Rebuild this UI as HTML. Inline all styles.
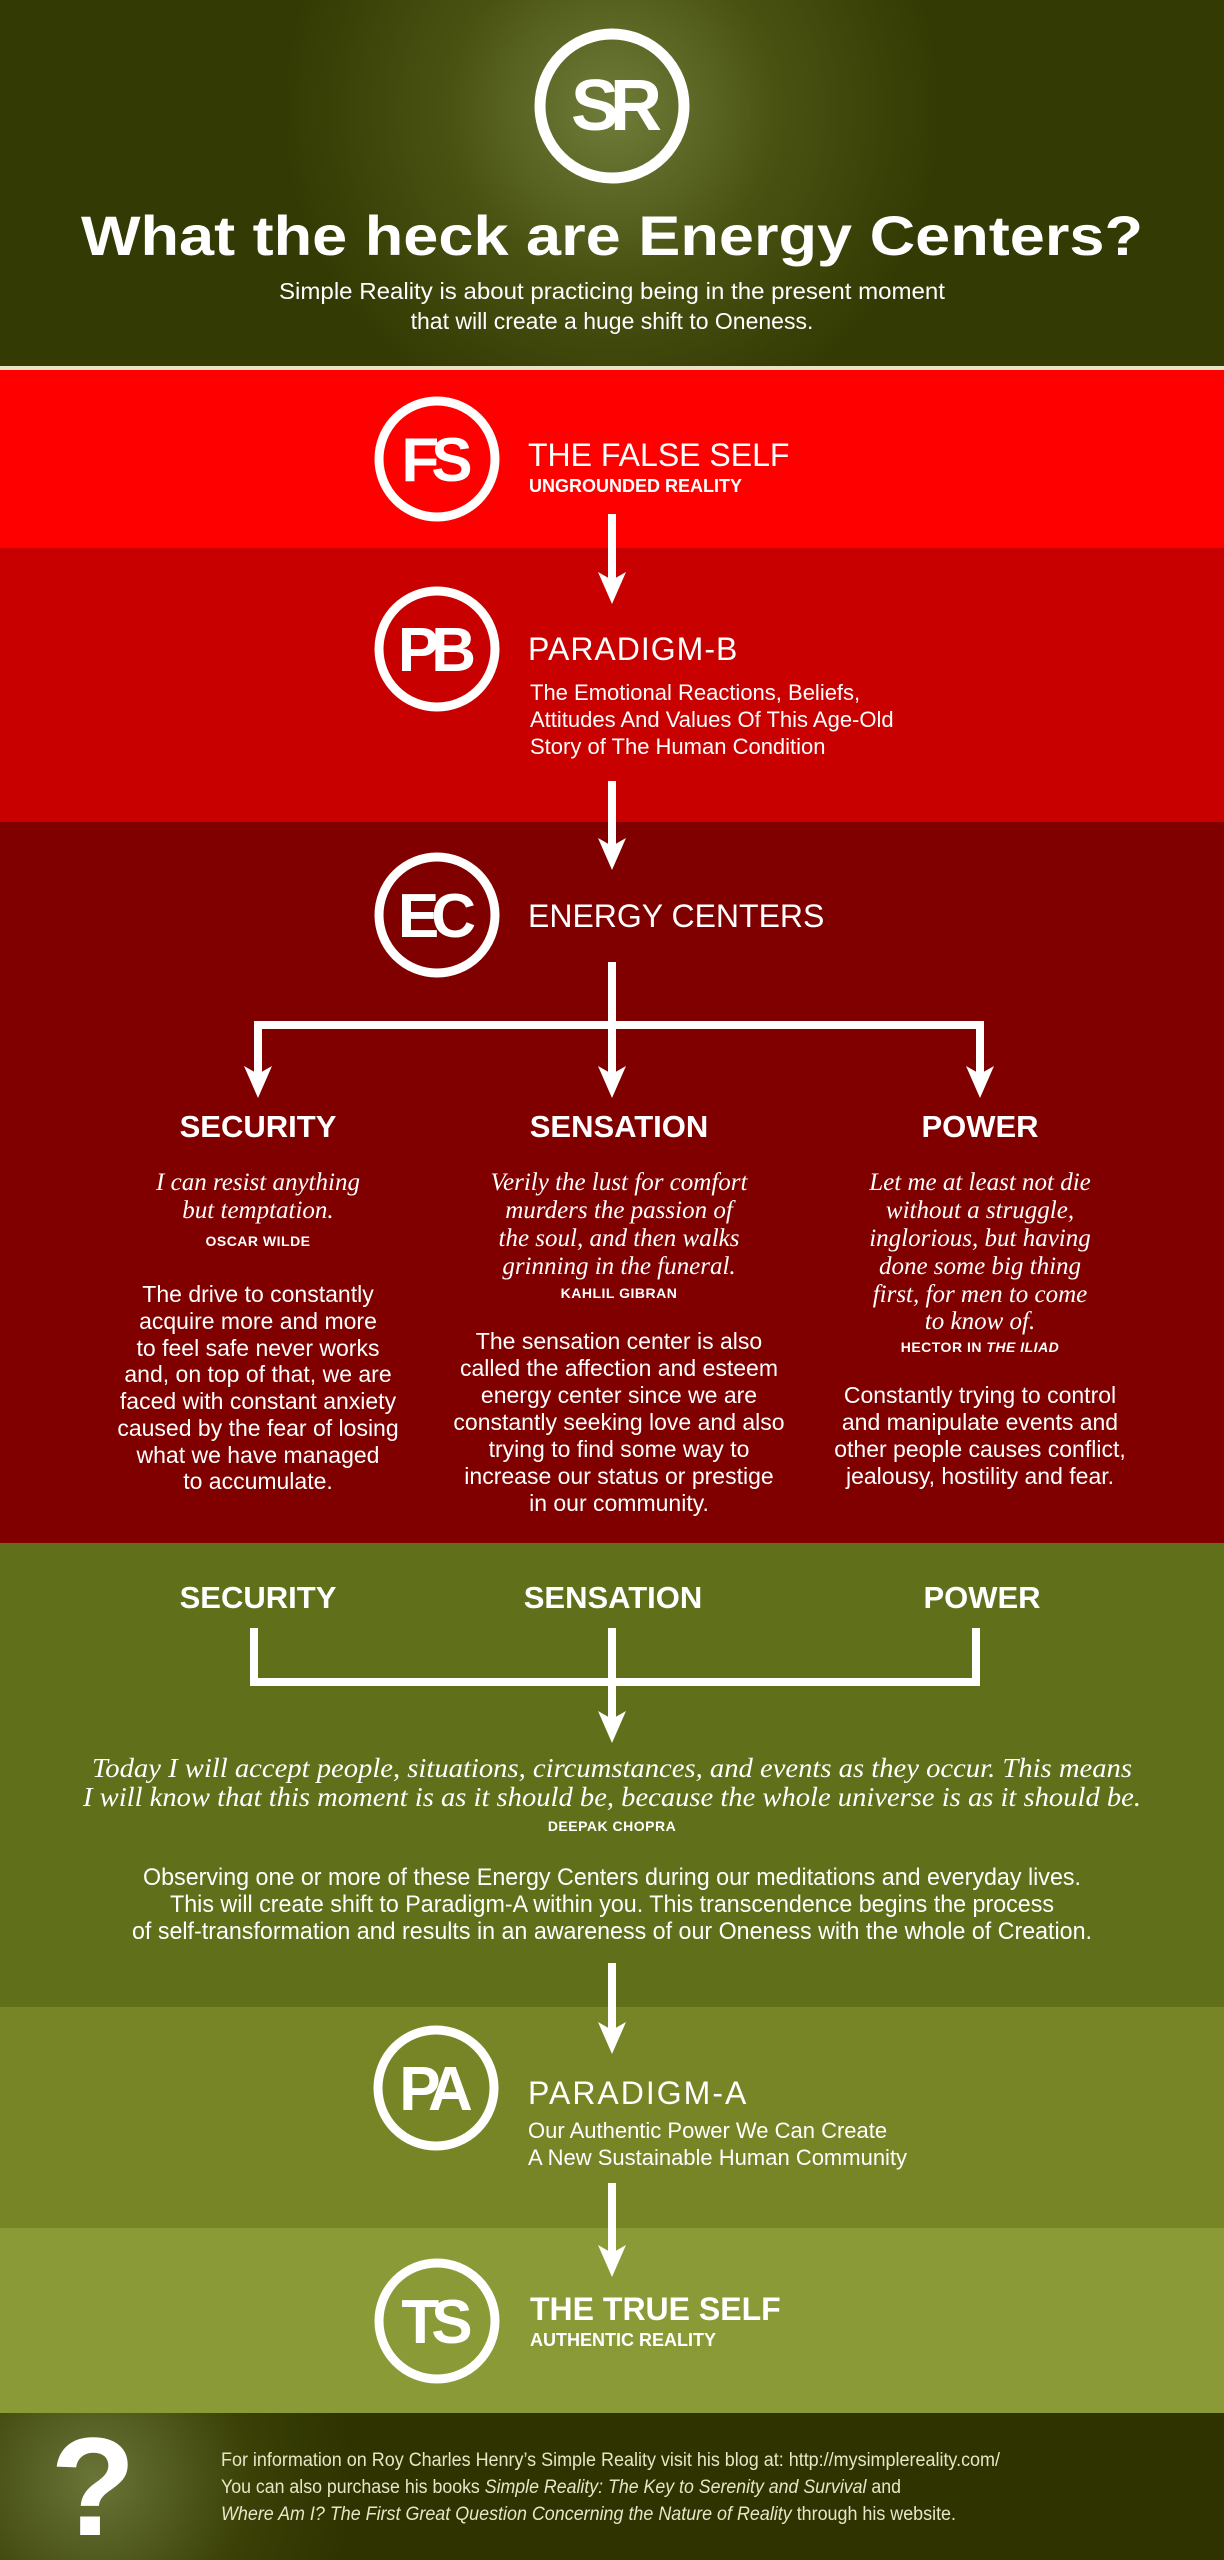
<!DOCTYPE html>
<html><head><meta charset="utf-8"><style>
html,body{margin:0;padding:0;background:#333a03}
svg{display:block}
.h{font-family:"Liberation Sans",sans-serif;font-weight:bold;fill:#fff}
.n{font-family:"Liberation Sans Narrow","Liberation Sans",sans-serif;fill:#fff}
.q{font-family:"Liberation Serif",serif;font-style:italic;fill:#fff}
</style></head><body>
<svg width="1224" height="2560" viewBox="0 0 1224 2560" xmlns="http://www.w3.org/2000/svg">
<defs>
<radialGradient id="g1" cx="612" cy="110" r="330" gradientUnits="userSpaceOnUse">
<stop offset="0" stop-color="#6f7d3a"/><stop offset="0.5" stop-color="#4a5212"/><stop offset="1" stop-color="#333a03"/></radialGradient>
<radialGradient id="g2" cx="95" cy="2480" r="260" gradientUnits="userSpaceOnUse">
<stop offset="0" stop-color="#6a7538"/><stop offset="0.6" stop-color="#3a4006"/><stop offset="1" stop-color="#2e3300"/></radialGradient>
</defs>
<rect x="0" y="0" width="1224" height="368" fill="url(#g1)"/>
<rect x="0" y="366" width="1224" height="4" fill="#e9e4c8"/>
<rect x="0" y="370" width="1224" height="178" fill="#ff0000"/>
<rect x="0" y="548" width="1224" height="274" fill="#c80000"/>
<rect x="0" y="822" width="1224" height="721" fill="#800000"/>
<rect x="0" y="1543" width="1224" height="464" fill="#5f6f1a"/>
<rect x="0" y="2007" width="1224" height="221" fill="#778526"/>
<rect x="0" y="2228" width="1224" height="185" fill="#8a9a36"/>
<rect x="0" y="2413" width="1224" height="147" fill="url(#g2)"/>

<circle cx="612" cy="106" r="72" fill="none" stroke="#fff" stroke-width="11"/>
<text x="612" y="130" text-anchor="middle" class="h" font-size="72" letter-spacing="-9">SR</text>
<text x="612" y="255" text-anchor="middle" class="h" font-size="56" textLength="1062" lengthAdjust="spacingAndGlyphs" fill="#f5f3e4">What the heck are Energy Centers?</text>
<text x="612" y="299" text-anchor="middle" class="n" font-size="23" textLength="666" lengthAdjust="spacingAndGlyphs" fill="#eeeadb">Simple Reality is about practicing being in the present moment</text>
<text x="612" y="329" text-anchor="middle" class="n" font-size="23" fill="#eeeadb">that will create a huge shift to Oneness.</text>

<g fill="none" stroke="#fff" stroke-width="9">
<circle cx="437" cy="459" r="58"/>
<circle cx="437" cy="649" r="58"/>
<circle cx="437" cy="915" r="58"/>
<circle cx="436" cy="2088" r="58"/>
<circle cx="437" cy="2321" r="58"/>
</g>
<g class="h" font-size="62" letter-spacing="-8" text-anchor="middle">
<text x="433" y="481">FS</text>
<text x="433" y="671">PB</text>
<text x="433" y="937">EC</text>
<text x="432" y="2110">PA</text>
<text x="433" y="2343">TS</text>
</g>

<text x="528" y="466" class="h" font-size="32" style="font-weight:normal">THE FALSE SELF</text>
<text x="529" y="492" class="h" font-size="18">UNGROUNDED REALITY</text>
<text x="528" y="660" class="h" font-size="32" style="font-weight:normal" letter-spacing="1">PARADIGM-B</text>
<g class="n" font-size="22">
<text x="530" y="700">The Emotional Reactions, Beliefs,</text>
<text x="530" y="727">Attitudes And Values Of This Age-Old</text>
<text x="530" y="754">Story of The Human Condition</text>
</g>
<text x="528" y="927" class="h" font-size="32" style="font-weight:normal">ENERGY CENTERS</text>

<g stroke="#fff" stroke-width="8" fill="none">
<line x1="612" y1="514" x2="612" y2="590"/>
<line x1="612" y1="781" x2="612" y2="856"/>
<polyline points="612,962 612,1025"/>
<polyline points="258,1084 258,1025 980,1025 980,1084"/>
<line x1="612" y1="1025" x2="612" y2="1084"/>
<polyline points="254,1628 254,1682 976,1682 976,1628"/>
<line x1="612" y1="1628" x2="612" y2="1730"/>
<line x1="612" y1="1963" x2="612" y2="2040"/>
<line x1="612" y1="2183" x2="612" y2="2263"/>
</g>
<g fill="#fff">
<path d="M598,572 L612,604 L626,572 L612,580 Z"/>
<path d="M598,838 L612,870 L626,838 L612,846 Z"/>
<path d="M244,1066 L258,1098 L272,1066 L258,1074 Z"/>
<path d="M598,1066 L612,1098 L626,1066 L612,1074 Z"/>
<path d="M966,1066 L980,1098 L994,1066 L980,1074 Z"/>
<path d="M598,1711 L612,1743 L626,1711 L612,1719 Z"/>
<path d="M598,2022 L612,2054 L626,2022 L612,2030 Z"/>
<path d="M598,2245 L612,2277 L626,2245 L612,2253 Z"/>
</g>

<g class="h" font-size="31" text-anchor="middle">
<text x="258" y="1137">SECURITY</text>
<text x="619" y="1137">SENSATION</text>
<text x="980" y="1137">POWER</text>
</g>
<g class="q" font-size="25" text-anchor="middle">
<text x="258" y="1190">I can resist anything</text>
<text x="258" y="1218">but temptation.</text>
<text x="619" y="1190">Verily the lust for comfort</text>
<text x="619" y="1218">murders the passion of</text>
<text x="619" y="1246">the soul, and then walks</text>
<text x="619" y="1274">grinning in the funeral.</text>
<text x="980" y="1190">Let me at least not die</text>
<text x="980" y="1218">without a struggle,</text>
<text x="980" y="1246">inglorious, but having</text>
<text x="980" y="1274">done some big thing</text>
<text x="980" y="1302">first, for men to come</text>
<text x="980" y="1329">to know of.</text>
</g>
<g class="h" font-size="14" text-anchor="middle" letter-spacing="0.5">
<text x="258" y="1246">OSCAR WILDE</text>
<text x="619" y="1298">KAHLIL GIBRAN</text>
<text x="980" y="1352">HECTOR IN <tspan font-style="italic">THE ILIAD</tspan></text>
</g>
<g class="n" font-size="23" text-anchor="middle">
<text x="258" y="1302">The drive to constantly</text>
<text x="258" y="1329">acquire more and more</text>
<text x="258" y="1356">to feel safe never works</text>
<text x="258" y="1382">and, on top of that, we are</text>
<text x="258" y="1409">faced with constant anxiety</text>
<text x="258" y="1436">caused by the fear of losing</text>
<text x="258" y="1463">what we have managed</text>
<text x="258" y="1489">to accumulate.</text>
<text x="619" y="1349">The sensation center is also</text>
<text x="619" y="1376">called the affection and esteem</text>
<text x="619" y="1403">energy center since we are</text>
<text x="619" y="1430">constantly seeking love and also</text>
<text x="619" y="1457">trying to find some way to</text>
<text x="619" y="1484">increase our status or prestige</text>
<text x="619" y="1511">in our community.</text>
<text x="980" y="1403">Constantly trying to control</text>
<text x="980" y="1430">and manipulate events and</text>
<text x="980" y="1457">other people causes conflict,</text>
<text x="980" y="1484">jealousy, hostility and fear.</text>
</g>

<g class="h" font-size="31" text-anchor="middle">
<text x="258" y="1608">SECURITY</text>
<text x="613" y="1608">SENSATION</text>
<text x="982" y="1608">POWER</text>
</g>
<g class="q" font-size="27" text-anchor="middle">
<text x="612" y="1777" textLength="1040" lengthAdjust="spacingAndGlyphs">Today I will accept people, situations, circumstances, and events as they occur. This means</text>
<text x="612" y="1806" textLength="1058" lengthAdjust="spacingAndGlyphs">I will know that this moment is as it should be, because the whole universe is as it should be.</text>
</g>
<text x="612" y="1831" class="h" font-size="14" text-anchor="middle" letter-spacing="0.5">DEEPAK CHOPRA</text>
<g class="n" font-size="24" text-anchor="middle">
<text x="612" y="1885" textLength="938" lengthAdjust="spacingAndGlyphs">Observing one or more of these Energy Centers during our meditations and everyday lives.</text>
<text x="612" y="1912" textLength="884" lengthAdjust="spacingAndGlyphs">This will create shift to Paradigm-A within you. This transcendence begins the process</text>
<text x="612" y="1939" textLength="960" lengthAdjust="spacingAndGlyphs">of self-transformation and results in an awareness of our Oneness with the whole of Creation.</text>
</g>

<text x="528" y="2104" class="h" font-size="32" style="font-weight:normal" letter-spacing="2">PARADIGM-A</text>
<g class="n" font-size="22">
<text x="528" y="2138">Our Authentic Power We Can Create</text>
<text x="528" y="2165">A New Sustainable Human Community</text>
</g>
<text x="530" y="2320" class="h" font-size="32">THE TRUE SELF</text>
<text x="530" y="2346" class="h" font-size="18">AUTHENTIC REALITY</text>

<text x="93" y="2535" class="h" font-size="140" text-anchor="middle">?</text>
<g class="n" font-size="19" style="fill:#e8e6c8">
<text x="221" y="2466" textLength="779" lengthAdjust="spacingAndGlyphs">For information on Roy Charles Henry’s Simple Reality visit his blog at: http://mysimplereality.com/</text>
<text x="221" y="2493" textLength="680" lengthAdjust="spacingAndGlyphs">You can also purchase his books <tspan font-style="italic">Simple Reality: The Key to Serenity and Survival</tspan> and</text>
<text x="221" y="2520" textLength="735" lengthAdjust="spacingAndGlyphs"><tspan font-style="italic">Where Am I? The First Great Question Concerning the Nature of Reality</tspan> through his website.</text>
</g>
</svg>
</body></html>
